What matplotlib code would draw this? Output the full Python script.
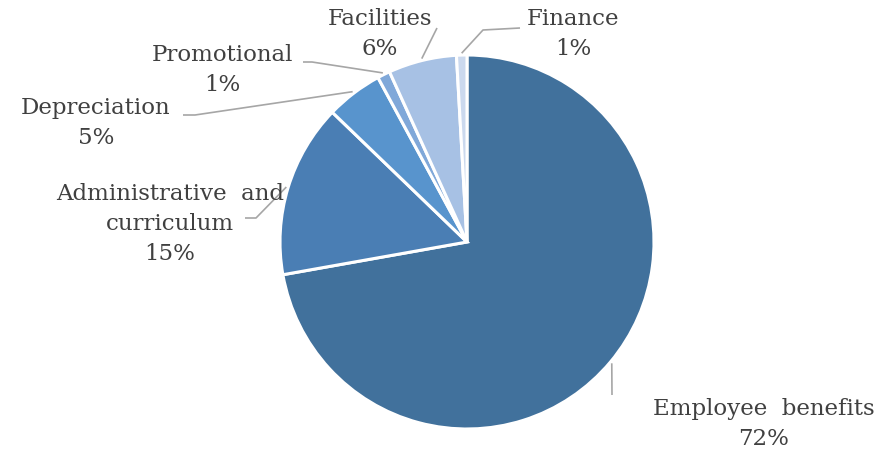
import numpy as np
import matplotlib
matplotlib.use("Agg")
import matplotlib.pyplot as plt

# expense shares, clockwise from 12 o'clock
categories = ["Employee  benefits", "Administrative  and\ncurriculum", "Depreciation",
              "Promotional", "Facilities", "Finance"]
values = [72.2, 15.0, 4.9, 1.1, 5.9, 0.9]
colors = ["#41719C", "#4A7EB4", "#5894CD", "#80A8D9", "#A7C1E4", "#CBD9EE"]

W, H = 892, 449
cx, cy, R = 467, 242, 187


def px(x, y):
    # pixel position -> data coords (pie radius = 1)
    return (x - cx) / R, (cy - y) / R


# label centre, elbow and end of leader line (pixels)
label_pos = [(764, 424), (170, 224), (96, 123), (222, 70), (380, 34), (573, 34)]
leader_pts = [[(612, 395)], [(256, 218), (245, 218)], [(195, 115), (183, 115)],
              [(312, 62), (303, 62)], [(437, 28)], [(483, 30), (520, 28)]]

fig = plt.figure(figsize=(W / 100, H / 100), dpi=100)
ax = fig.add_axes([0, 0, 1, 1])

wedges, _ = ax.pie(values, colors=colors, startangle=90, counterclock=False,
                   radius=1, center=(0, 0), frame=True,
                   wedgeprops=dict(edgecolor="white", linewidth=2.2))
ax.set_xlim(-cx / R, (W - cx) / R)
ax.set_ylim(-(H - cy) / R, cy / R)
ax.set_aspect("auto")
ax.axis("off")

total = sum(values)
for w, cat, v, lp, pts in zip(wedges, categories, values, label_pos, leader_pts):
    mid = np.deg2rad((w.theta1 + w.theta2) / 2)
    x0, y0 = 1.01 * np.cos(mid), 1.01 * np.sin(mid)
    xs = [x0] + [px(*p)[0] for p in pts]
    ys = [y0] + [px(*p)[1] for p in pts]
    ax.plot(xs, ys, color="#A6A6A6", lw=1.2, solid_capstyle="butt")
    tx, ty = px(*lp)
    ax.text(tx, ty, f"{cat}\n{v / total * 100:.0f}%", ha="center", va="center",
            fontsize=16.5, color="#404040", family="DejaVu Serif", linespacing=1.5)

fig.savefig("out.png", dpi=100, facecolor="white")
